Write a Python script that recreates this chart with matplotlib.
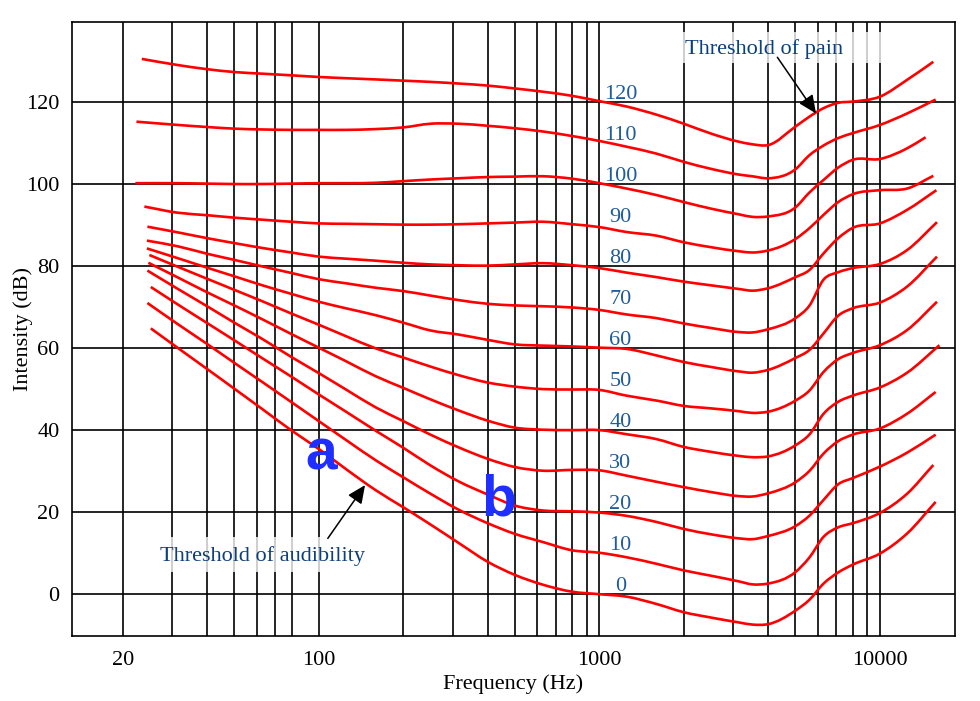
import numpy as np
import matplotlib.pyplot as plt
from matplotlib.patches import Rectangle, PathPatch
from matplotlib.path import Path

plt.rcParams['font.family'] = ['Liberation Serif', 'DejaVu Serif']

# loudness levels (phon) of the contours
phons = [0, 10, 20, 30, 40, 50, 60, 70, 80, 90, 100, 110, 120]

# shared inner frequencies (Hz)
freqs = [31.5, 40, 50, 63, 80, 100, 125, 160, 200, 250, 315, 400, 500, 630, 800,
         1000, 1250, 1600, 2000, 2500, 3150, 3500, 4000, 5000, 5600, 6300, 7100,
         8000, 10000, 12500]

# first and last point of each contour
start_freq = [25.2, 24.5, 25.2, 24.5, 24.7, 24.9, 24.4, 24.4, 24.5, 23.9, 22.2, 22.4, 23.4]
start_db = [64.8, 71.0, 74.9, 78.9, 80.8, 82.7, 84.3, 86.2, 89.6, 94.5, 100.2, 115.2, 130.5]
end_freq = [15800, 15500, 15800, 15800, 16300, 15970, 15970, 15970, 15900, 15500, 14550, 15800, 15500]
end_db = [22.5, 31.5, 38.9, 49.3, 60.7, 71.3, 82.3, 90.7, 98.5, 102.0, 111.4, 120.6, 129.8]

# intensity (dB) of each contour at the shared frequencies
db_0 = [60.0, 54.9, 50.1, 45.1, 39.9, 35.4, 30.5, 25.3, 21.2, 17.0, 12.5, 7.9, 4.7, 2.3, 0.6,
        0.0, -0.6, -2.4, -4.4, -5.7, -6.9, -7.4, -7.3, -4.0, -1.4, 2.6, 5.3, 7.2, 9.9, 14.8]
db_10 = [65.8, 61.0, 56.4, 51.7, 46.8, 42.2, 37.6, 32.6, 28.5, 24.5, 20.6, 17.3, 14.7, 12.7, 10.7,
         10.1, 9.0, 7.4, 5.8, 4.5, 3.1, 2.4, 2.6, 5.4, 8.9, 14.0, 16.3, 17.3, 19.8, 24.5]
db_20 = [70.6, 66.1, 61.9, 57.5, 53.0, 48.7, 44.5, 39.8, 35.7, 31.4, 27.5, 24.3, 21.6, 20.4, 20.2,
         19.9, 19.1, 17.6, 15.9, 14.6, 13.6, 13.4, 14.2, 16.6, 19.1, 23.0, 26.8, 28.3, 31.1, 34.5]
db_30 = [74.4, 70.2, 66.2, 62.2, 57.8, 53.9, 49.9, 45.5, 42.2, 38.9, 35.8, 33.0, 31.0, 30.1, 30.3,
         30.2, 28.9, 27.4, 26.1, 24.9, 23.9, 23.8, 24.6, 27.3, 30.0, 34.3, 37.3, 38.9, 40.4, 44.0]
db_40 = [77.2, 73.6, 70.4, 67.0, 63.4, 60.1, 56.8, 53.1, 50.3, 47.5, 44.8, 42.3, 40.6, 40.1, 40.0,
         40.0, 39.0, 37.8, 35.9, 34.7, 33.7, 33.4, 33.6, 36.3, 38.9, 44.0, 46.9, 48.4, 50.4, 54.0]
db_50 = [79.8, 76.9, 74.2, 71.4, 68.4, 65.7, 62.9, 59.9, 57.7, 55.5, 53.4, 51.6, 50.6, 50.0, 49.9,
         49.8, 48.4, 47.2, 45.9, 45.3, 44.6, 44.2, 44.5, 47.2, 49.6, 54.2, 57.3, 58.8, 60.7, 64.4]
db_60 = [81.9, 79.6, 77.5, 75.3, 73.2, 71.3, 69.7, 68.0, 66.2, 64.3, 63.3, 62.0, 60.9, 60.6, 60.4,
         60.1, 59.8, 58.2, 56.6, 55.4, 54.3, 54.0, 54.7, 57.6, 59.5, 63.6, 67.9, 69.7, 71.1, 75.0]
db_70 = [84.8, 83.0, 81.5, 79.9, 78.3, 76.8, 75.8, 74.7, 73.9, 72.8, 71.7, 70.8, 70.4, 70.2, 69.9,
         69.3, 68.2, 67.3, 66.0, 64.9, 63.9, 63.8, 64.6, 67.3, 70.3, 76.7, 78.5, 79.5, 80.5, 83.9]
db_80 = [88.2, 86.8, 85.6, 84.4, 83.3, 82.3, 81.8, 81.3, 80.8, 80.4, 80.2, 80.1, 80.4, 80.7, 80.2,
         79.5, 78.4, 77.3, 76.2, 75.3, 74.4, 74.0, 74.6, 77.3, 79.0, 83.1, 86.8, 89.3, 90.4, 93.7]
db_90 = [93.0, 92.4, 91.8, 91.3, 90.8, 90.4, 90.3, 90.2, 90.1, 90.1, 90.2, 90.4, 90.6, 90.8, 90.2,
         89.5, 88.3, 87.4, 85.8, 84.6, 83.6, 83.3, 83.8, 86.6, 89.2, 92.5, 95.6, 97.5, 98.5, 98.9]
db_100 = [100.2, 100.1, 100.0, 100.0, 100.1, 100.2, 100.2, 100.3, 100.7, 101.1, 101.4, 101.7, 101.8,
          101.9, 101.3, 100.2, 98.9, 97.3, 95.6, 94.0, 92.6, 92.0, 92.1, 94.3, 97.9, 101.0, 104.0,
          105.9, 106.1, 108.7]
db_110 = [114.4, 113.9, 113.5, 113.3, 113.2, 113.2, 113.2, 113.4, 113.8, 114.7, 114.7, 114.2, 113.6,
          112.8, 111.7, 110.5, 109.1, 107.4, 105.4, 103.7, 102.3, 101.9, 101.4, 103.6, 107.0, 109.4,
          111.2, 112.4, 114.4, 117.2]
db_120 = [129.0, 128.0, 127.3, 126.9, 126.5, 126.1, 125.8, 125.5, 125.2, 124.9, 124.5, 124.0, 123.3,
          122.5, 121.5, 120.2, 118.9, 116.9, 114.7, 112.3, 110.3, 109.7, 109.5, 114.0, 116.4, 118.5,
          119.8, 120.1, 121.3, 125.4]
contours = [db_0, db_10, db_20, db_30, db_40, db_50, db_60, db_70, db_80, db_90, db_100, db_110, db_120]

grid_freqs = [20, 30, 40, 50, 60, 70, 80, 100, 200, 300, 400, 500, 600, 700, 800, 900,
              1000, 2000, 3000, 4000, 5000, 6000, 7000, 8000, 9000, 10000]
grid_db = [0, 20, 40, 60, 80, 100, 120]
xtick_vals = [20, 100, 1000, 10000]


def smooth_path(f, d):
    # bezier segments through the read points (hermite tangents in log f)
    u = np.log10(f)
    d = np.asarray(d, dtype=float)
    m = np.gradient(d, u)
    verts = [(f[0], d[0])]
    codes = [Path.MOVETO]
    for i in range(len(u) - 1):
        h = (u[i + 1] - u[i]) / 3
        verts += [(10 ** (u[i] + h), d[i] + m[i] * h),
                  (10 ** (u[i + 1] - h), d[i + 1] - m[i + 1] * h),
                  (f[i + 1], d[i + 1])]
        codes += [Path.CURVE4] * 3
    return Path(verts, codes)


fig = plt.figure(figsize=(9.8, 7.01), dpi=100)
ax = fig.add_axes([0.0735, 0.0927, 0.901, 0.8759])
ax.set_xscale('log')
ax.set_xlim(13.2, 18520)
ax.set_ylim(-10.2, 139.5)

for f in grid_freqs:
    ax.axvline(f, color='black', lw=1.2, zorder=1)
for d in grid_db:
    ax.axhline(d, color='black', lw=1.2, zorder=1)

# white boxes behind the two labels
ax.add_patch(Rectangle((1939, 129.5), 10428 - 1939, 7.6, facecolor='white',
                       edgecolor='none', alpha=0.78, zorder=2))
ax.add_patch(Rectangle((25.0, 5.4), 195 - 25.0, 8.5, facecolor='white',
                       edgecolor='none', alpha=0.78, zorder=2))

for i, p in enumerate(phons):
    x = [start_freq[i]] + freqs + [end_freq[i]]
    y = [start_db[i]] + contours[i] + [end_db[i]]
    ax.add_patch(PathPatch(smooth_path(x, y), facecolor='none', edgecolor='#ff0000',
                           lw=1.9, capstyle='butt', zorder=3))
    ax.text(1188, p + 0.8, str(p), color='#1f5c9c', fontsize=16,
            ha='center', va='baseline', zorder=5)

ax.text(2021, 131.8, 'Threshold of pain', color='#0b3f7d', fontsize=16,
        ha='left', va='baseline', zorder=5)
ax.text(27.2, 8.0, 'Threshold of audibility', color='#0b3f7d', fontsize=16,
        ha='left', va='baseline', zorder=5)

arrow = dict(arrowstyle='-|>,head_length=0.55,head_width=0.25', color='black',
             lw=1.1, mutation_scale=20, shrinkA=0, shrinkB=0)
ax.annotate('', xy=(5920, 117.2), xytext=(4310, 130.9), arrowprops=arrow, zorder=4)
ax.annotate('', xy=(146.2, 26.6), xytext=(107.7, 13.6), arrowprops=arrow, zorder=4)

ax.text(101.9, 30.4, 'a', color='#1f2fff', fontsize=41, fontweight='bold',
        family=['Liberation Sans', 'DejaVu Sans'], ha='center', va='baseline', zorder=5)
ax.text(437, 19.3, 'b', color='#1f2fff', fontsize=41, fontweight='bold',
        family=['Liberation Sans', 'DejaVu Sans'], ha='center', va='baseline', zorder=5)

ax.set_xticks(xtick_vals)
ax.set_xticklabels([str(v) for v in xtick_vals])
ax.xaxis.set_minor_locator(plt.NullLocator())
ax.set_yticks(grid_db)
ax.tick_params(axis='both', length=0, labelsize=16)
ax.tick_params(axis='x', pad=11)
ax.tick_params(axis='y', pad=9)
ax.set_xlabel('Frequency (Hz)', fontsize=16, labelpad=3)
ax.set_ylabel('Intensity (dB)', fontsize=16, labelpad=-5)
for s in ax.spines.values():
    s.set_linewidth(1.2)

fig.savefig('out.png', dpi=100)
